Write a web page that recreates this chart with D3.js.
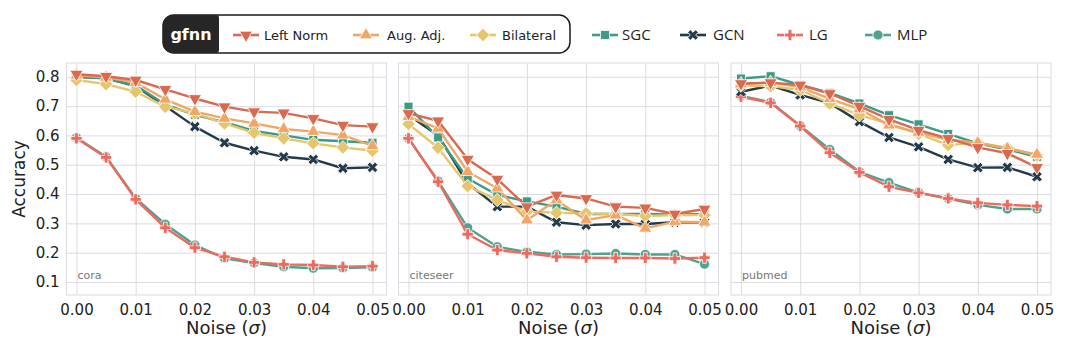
<!DOCTYPE html>
<html><head><meta charset="utf-8">
<script src="https://cdn.jsdelivr.net/npm/d3@7"></script>
<style>body{margin:0;background:#fff}svg{display:block}</style>
</head><body><svg id="c" width="1080" height="362"></svg>
<script>
// ---- data ----
const noise = [0, 0.005, 0.01, 0.015, 0.02, 0.025, 0.03, 0.035, 0.04, 0.045, 0.05];
const xTicks = [0, 0.01, 0.02, 0.03, 0.04, 0.05];
const xTickLabels = ["0.00", "0.01", "0.02", "0.03", "0.04", "0.05"];
const yTicks = [0.1, 0.2, 0.3, 0.4, 0.5, 0.6, 0.7, 0.8];
const yTickLabels = ["0.1", "0.2", "0.3", "0.4", "0.5", "0.6", "0.7", "0.8"];
const datasets = ["cora", "citeseer", "pubmed"];
const seriesNames = ["Left Norm", "Aug. Adj.", "Bilateral", "SGC", "GCN", "LG", "MLP"];

const leftNormCora = [0.809, 0.802, 0.789, 0.757, 0.726, 0.698, 0.681, 0.677, 0.658, 0.635, 0.630];
const augAdjCora = [0.805, 0.798, 0.780, 0.723, 0.681, 0.658, 0.641, 0.622, 0.613, 0.601, 0.564];
const bilateralCora = [0.789, 0.775, 0.749, 0.698, 0.675, 0.641, 0.609, 0.590, 0.573, 0.559, 0.548];
const sgcCora = [0.800, 0.795, 0.770, 0.705, 0.670, 0.645, 0.615, 0.600, 0.585, 0.580, 0.575];
const gcnCora = [0.800, 0.795, 0.768, 0.700, 0.630, 0.575, 0.548, 0.527, 0.518, 0.488, 0.491];
const lgCora = [0.590, 0.525, 0.382, 0.285, 0.217, 0.186, 0.167, 0.160, 0.158, 0.152, 0.154];
const mlpCora = [0.592, 0.527, 0.385, 0.297, 0.226, 0.181, 0.165, 0.152, 0.147, 0.148, 0.150];

const leftNormCiteseer = [0.675, 0.650, 0.519, 0.451, 0.357, 0.397, 0.385, 0.357, 0.353, 0.332, 0.349];
const augAdjCiteseer = [0.664, 0.624, 0.476, 0.420, 0.311, 0.380, 0.311, 0.328, 0.283, 0.306, 0.304];
const bilateralCiteseer = [0.639, 0.558, 0.427, 0.380, 0.340, 0.336, 0.334, 0.332, 0.325, 0.328, 0.328];
const sgcCiteseer = [0.698, 0.593, 0.453, 0.397, 0.375, 0.357, 0.332, 0.332, 0.332, 0.330, 0.332];
const gcnCiteseer = [0.670, 0.600, 0.436, 0.357, 0.357, 0.304, 0.294, 0.298, 0.298, 0.304, 0.304];
const lgCiteseer = [0.590, 0.442, 0.263, 0.209, 0.198, 0.186, 0.183, 0.182, 0.182, 0.180, 0.183];
const mlpCiteseer = [0.590, 0.445, 0.285, 0.220, 0.203, 0.194, 0.195, 0.197, 0.194, 0.194, 0.161];

const leftNormPubmed = [0.777, 0.780, 0.772, 0.743, 0.700, 0.655, 0.618, 0.590, 0.559, 0.539, 0.491];
const augAdjPubmed = [0.775, 0.780, 0.765, 0.725, 0.690, 0.635, 0.610, 0.585, 0.575, 0.555, 0.535];
const bilateralPubmed = [0.770, 0.768, 0.755, 0.709, 0.669, 0.640, 0.605, 0.567, 0.575, 0.558, 0.532];
const sgcPubmed = [0.794, 0.802, 0.772, 0.745, 0.709, 0.669, 0.638, 0.605, 0.573, 0.552, 0.527];
const gcnPubmed = [0.749, 0.770, 0.738, 0.710, 0.647, 0.593, 0.561, 0.518, 0.490, 0.491, 0.459];
const lgPubmed = [0.732, 0.711, 0.632, 0.541, 0.474, 0.425, 0.404, 0.385, 0.370, 0.363, 0.359];
const mlpPubmed = [0.735, 0.713, 0.633, 0.552, 0.476, 0.439, 0.405, 0.385, 0.363, 0.349, 0.349];

const panelData = [
  [leftNormCora, augAdjCora, bilateralCora, sgcCora, gcnCora, lgCora, mlpCora],
  [leftNormCiteseer, augAdjCiteseer, bilateralCiteseer, sgcCiteseer, gcnCiteseer, lgCiteseer, mlpCiteseer],
  [leftNormPubmed, augAdjPubmed, bilateralPubmed, sgcPubmed, gcnPubmed, lgPubmed, mlpPubmed]
];

// ---- styles ----
const colors = ["#d9694f", "#f0a766", "#e6c66c", "#3b9b88", "#243a4a", "#ec6a5e", "#4fa38e"];
const FONT = "DejaVu Sans, sans-serif";
function markerPath(i) {
  const S = d3.symbol();
  switch (i) {
    case 0: return { d: S.type(d3.symbolTriangle).size(75)(), rot: 180 };
    case 1: return { d: S.type(d3.symbolTriangle).size(75)(), rot: 0 };
    case 2: return { d: S.type(d3.symbolSquare).size(92)(), rot: 45 };
    case 3: return { d: S.type(d3.symbolSquare).size(80)(), rot: 0 };
    case 4: return { d: S.type(d3.symbolCross).size(70)(), rot: 45 };
    case 5: return { d: S.type(d3.symbolCross).size(70)(), rot: 0 };
    case 6: return { d: S.type(d3.symbolCircle).size(80)(), rot: 0 };
  }
}

const svg = d3.select("#c");
svg.append("rect").attr("width", 1080).attr("height", 362).attr("fill", "#fff");

const panelLeft = [66.5, 398.5, 731];
const panelW = 320, plotTop = 63, plotBottom = 295;
const y = d3.scaleLinear().domain([0.0557, 0.847]).range([plotBottom, plotTop]);
const gridColor = "#dcdce2";
const drawOrder = [6, 5, 4, 3, 2, 1, 0];

panelLeft.forEach((L, p) => {
  const x = d3.scaleLinear().domain([0, 0.05]).range([L + 10, L + panelW - 14]);
  const g = svg.append("g");
  g.append("rect").attr("x", L).attr("y", plotTop).attr("width", panelW).attr("height", plotBottom - plotTop)
    .attr("fill", "#fff").attr("stroke", gridColor).attr("stroke-width", 1);
  const gx = g.append("g").attr("transform", `translate(0,${plotBottom})`)
    .call(d3.axisBottom(x).tickValues(xTicks).tickSize(-(plotBottom - plotTop)).tickFormat((d, i) => xTickLabels[i]));
  gx.select(".domain").remove();
  gx.selectAll("line").attr("stroke", gridColor);
  gx.selectAll("text").attr("font-family", FONT).attr("font-size", 15).attr("fill", "#222").attr("dy", "1.05em").attr("y", 4);
  const gy = g.append("g").attr("transform", `translate(${L},0)`)
    .call(d3.axisLeft(y).tickValues(yTicks).tickSize(-panelW).tickFormat((d, i) => p === 0 ? yTickLabels[i] : ""));
  gy.select(".domain").remove();
  gy.selectAll("line").attr("stroke", gridColor);
  gy.selectAll("text").attr("font-family", FONT).attr("font-size", 15).attr("fill", "#222").attr("x", -7);

  g.append("text").attr("x", L + 11).attr("y", 279).attr("font-family", FONT).attr("font-size", 11)
    .attr("fill", "#777").text(datasets[p]);

  const line = d3.line().x((d, i) => x(noise[i])).y(d => y(d));
  drawOrder.forEach(si => {
    const vals = panelData[p][si];
    g.append("path").attr("d", line(vals)).attr("fill", "none").attr("stroke", colors[si])
      .attr("stroke-width", 2.4).attr("stroke-linejoin", "round");
    const m = markerPath(si);
    g.selectAll(null).data(vals).enter().append("path")
      .attr("d", m.d)
      .attr("transform", (d, i) => `translate(${x(noise[i])},${y(d)}) rotate(${m.rot})`)
      .attr("fill", colors[si]).attr("stroke", "#fff").attr("stroke-width", 0.8);
  });

  const xl = g.append("text").attr("x", L + panelW / 2).attr("y", 334).attr("text-anchor", "middle")
    .attr("font-family", FONT).attr("font-size", 18).attr("fill", "#222");
  xl.append("tspan").text("Noise (");
  xl.append("tspan").attr("font-style", "italic").text("σ");
  xl.append("tspan").text(")");
});

svg.append("text").attr("transform", `translate(25,179) rotate(-90)`).attr("text-anchor", "middle")
  .attr("font-family", FONT).attr("font-size", 17).attr("fill", "#222").text("Accuracy");

// ---- legend ----
const leg = svg.append("g");
leg.append("rect").attr("x", 163).attr("y", 15).attr("width", 407).attr("height", 38).attr("rx", 11)
  .attr("fill", "#fff").attr("stroke", "#1a1a1a").attr("stroke-width", 1.5);
leg.append("path").attr("d", "M174,15 H216 Q219,15 219,18 V50 Q219,53 216,53 H174 Q163,53 163,42 V26 Q163,15 174,15 Z")
  .attr("fill", "#262626");
leg.append("text").attr("x", 191).attr("y", 39.5).attr("text-anchor", "middle").attr("font-family", FONT)
  .attr("font-weight", "bold").attr("font-size", 16).attr("fill", "#fff").text("gfnn");

const legItems = [
  { i: 0, mx: 246, tx: 264, fs: 13, font: FONT },
  { i: 1, mx: 366, tx: 387, fs: 13, font: FONT },
  { i: 2, mx: 483, tx: 502, fs: 13, font: FONT },
  { i: 3, mx: 605, tx: 622, fs: 15, font: "Open Sans, sans-serif" },
  { i: 4, mx: 693, tx: 713, fs: 15, font: "Open Sans, sans-serif" },
  { i: 5, mx: 790, tx: 809, fs: 15, font: "Open Sans, sans-serif" },
  { i: 6, mx: 878, tx: 897, fs: 15, font: "Open Sans, sans-serif" }
];
legItems.forEach(it => {
  const cy = 35;
  leg.append("line").attr("x1", it.mx - 13).attr("x2", it.mx + 13).attr("y1", cy).attr("y2", cy)
    .attr("stroke", colors[it.i]).attr("stroke-width", 2.6);
  const m = markerPath(it.i);
  leg.append("path").attr("d", m.d).attr("transform", `translate(${it.mx},${cy}) rotate(${m.rot})`)
    .attr("fill", colors[it.i]).attr("stroke", "#fff").attr("stroke-width", 0.8);
  leg.append("text").attr("x", it.tx).attr("y", cy + it.fs * 0.36).attr("font-family", it.font)
    .attr("font-size", it.fs).attr("fill", "#222").text(seriesNames[it.i]);
});
</script></body></html>
